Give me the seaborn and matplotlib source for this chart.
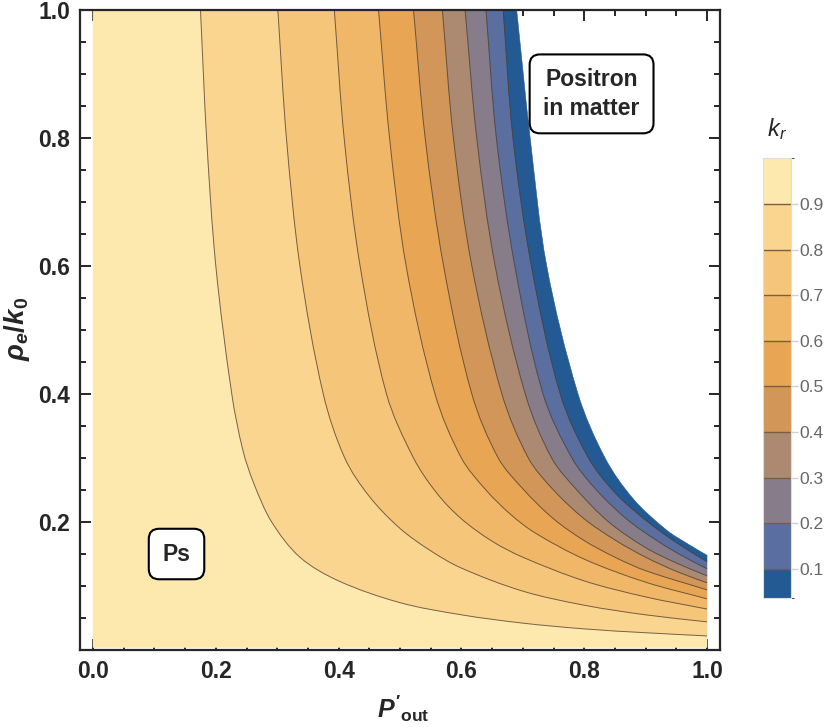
import numpy as np
import pandas as pd
import matplotlib
matplotlib.use('Agg')
import matplotlib.pyplot as plt
import seaborn as sns
from matplotlib.colors import ListedColormap, BoundaryNorm
from matplotlib.cm import ScalarMappable
from matplotlib.path import Path
from matplotlib.patches import PathPatch
from matplotlib.ticker import MultipleLocator

# contour levels of k_r as (P'_out, rho_e/k0) points
levels = [0.9, 0.8, 0.7, 0.6, 0.5, 0.4, 0.3, 0.2, 0.1]

p_09 = [0.175, 0.185, 0.200, 0.226, 0.244, 0.262, 0.291, 0.337, 0.40, 0.50, 0.60, 0.70, 0.80, 0.90, 1.00]
r_09 = [1.0, 0.8, 0.6, 0.4, 0.3125, 0.26, 0.20, 0.145, 0.108, 0.074, 0.055, 0.042, 0.033, 0.027, 0.022]
p_08 = [0.301, 0.315, 0.337, 0.375, 0.410, 0.45, 0.50, 0.55, 0.60, 0.70, 0.80, 0.90, 1.00]
r_08 = [1.0, 0.8, 0.6, 0.4, 0.3, 0.24, 0.19, 0.155, 0.128, 0.092, 0.070, 0.055, 0.044]
p_07 = [0.393, 0.409, 0.435, 0.478, 0.522, 0.56, 0.60, 0.65, 0.70, 0.80, 0.90, 1.00]
r_07 = [1.0, 0.8, 0.6, 0.4, 0.3, 0.245, 0.205, 0.17, 0.145, 0.108, 0.083, 0.064]
p_06 = [0.465, 0.483, 0.510, 0.557, 0.600, 0.64, 0.68, 0.72, 0.80, 0.90, 1.00]
r_06 = [1.0, 0.8, 0.6, 0.4, 0.3, 0.25, 0.212, 0.183, 0.142, 0.106, 0.080]
p_05 = [0.522, 0.541, 0.571, 0.617, 0.660, 0.70, 0.75, 0.80, 0.85, 0.90, 1.00]
r_05 = [1.0, 0.8, 0.6, 0.4, 0.3, 0.252, 0.205, 0.171, 0.145, 0.124, 0.094]
p_04 = [0.569, 0.587, 0.617, 0.666, 0.709, 0.75, 0.80, 0.85, 0.90, 0.95, 1.00]
r_04 = [1.0, 0.8, 0.6, 0.4, 0.3, 0.25, 0.205, 0.172, 0.145, 0.123, 0.105]
p_03 = [0.606, 0.625, 0.655, 0.704, 0.747, 0.79, 0.84, 0.90, 0.95, 1.00]
r_03 = [1.0, 0.8, 0.6, 0.4, 0.3, 0.248, 0.200, 0.160, 0.136, 0.116]
p_02 = [0.640, 0.657, 0.687, 0.733, 0.780, 0.82, 0.87, 0.92, 0.96, 1.00]
r_02 = [1.0, 0.8, 0.6, 0.4, 0.3, 0.25, 0.204, 0.170, 0.147, 0.127]
p_01 = [0.668, 0.684, 0.714, 0.761, 0.807, 0.85, 0.90, 0.95, 1.00]
r_01 = [1.0, 0.8, 0.6, 0.4, 0.3, 0.246, 0.203, 0.168, 0.138]
# edge of the region where k_r exists
p_edge = [0.690, 0.712, 0.739, 0.790, 0.834, 0.88, 0.934, 0.97, 1.00]
r_edge = [1.0, 0.8, 0.6, 0.4, 0.3, 0.236, 0.1875, 0.165, 0.148]

k_min = 0.035
band_colors = sns.color_palette(['#FDE8AE', '#FAD590', '#F5C67A', '#EFB767', '#E8A654',
                                 '#D29658', '#AB8A71', '#877C89', '#5A6FA0', '#235A94'])

sns.set_style('ticks')
plt.rcParams['font.family'] = ['Liberation Sans', 'DejaVu Sans']
plt.rcParams['mathtext.fontset'] = 'custom'
plt.rcParams['mathtext.rm'] = 'Liberation Sans:bold'
plt.rcParams['mathtext.it'] = 'Liberation Sans:italic:bold'
plt.rcParams['mathtext.bf'] = 'Liberation Sans:bold'
plt.rcParams['mathtext.sf'] = 'Liberation Sans:italic'


def smooth_verts(px, py):
    # bezier control points through the read points (chord-length tangents)
    pts = np.column_stack([px, py]).astype(float)
    d = np.hypot(*np.diff(pts, axis=0).T)
    tang = np.zeros_like(pts)
    tang[1:-1] = (pts[2:] - pts[:-2]) / (d[:-1] + d[1:])[:, None]
    tang[0] = (pts[1] - pts[0]) / d[0]
    tang[-1] = (pts[-1] - pts[-2]) / d[-1]
    verts = [pts[0]]
    for i in range(len(pts) - 1):
        verts.append(pts[i] + tang[i] * d[i] / 3)
        verts.append(pts[i + 1] - tang[i + 1] * d[i] / 3)
        verts.append(pts[i + 1])
    return verts


fig = plt.figure(figsize=(8.3, 7.27), dpi=100)
ax = fig.add_axes([0.0964, 0.1059, 0.7711, 0.8803])

curves = [(p_09, r_09), (p_08, r_08), (p_07, r_07), (p_06, r_06), (p_05, r_05),
          (p_04, r_04), (p_03, r_03), (p_02, r_02), (p_01, r_01), (p_edge, r_edge)]

r_low = 0.004
a = smooth_verts(p_09, r_09)
verts = [(0.0, 1.0)] + a + [(1.0, r_low), (0.0, r_low), (0.0, 1.0)]
codes = [Path.MOVETO, Path.LINETO] + [Path.CURVE4] * (len(a) - 1) + [Path.LINETO, Path.LINETO, Path.CLOSEPOLY]
ax.add_patch(PathPatch(Path(verts, codes), facecolor=band_colors[0], edgecolor=band_colors[0], lw=0.4))
for i in range(1, len(curves)):
    pa, ra = curves[i - 1]
    pb, rb = curves[i]
    a = smooth_verts(pa, ra)
    b = smooth_verts(pb[::-1], rb[::-1])
    verts = a + b + [a[0]]
    codes = ([Path.MOVETO] + [Path.CURVE4] * (len(a) - 1) + [Path.LINETO]
             + [Path.CURVE4] * (len(b) - 1) + [Path.CLOSEPOLY])
    ax.add_patch(PathPatch(Path(verts, codes), facecolor=band_colors[i],
                           edgecolor=band_colors[i], lw=0.4))

for lv, (p, r) in zip(levels, curves[:9]):
    a = smooth_verts(p, r)
    codes = [Path.MOVETO] + [Path.CURVE4] * (len(a) - 1)
    ax.add_patch(PathPatch(Path(a, codes), fill=False, edgecolor='#4a3a2a', lw=0.7, alpha=0.75))

ax.set_xlim(-0.0212, 1.0212)
ax.set_ylim(0, 1)
ax.set_xticks([0.0, 0.2, 0.4, 0.6, 0.8, 1.0])
ax.set_yticks([0.2, 0.4, 0.6, 0.8, 1.0])
ax.xaxis.set_minor_locator(MultipleLocator(0.05))
ax.yaxis.set_minor_locator(MultipleLocator(0.05))
ax.set_xticklabels(['0.0', '0.2', '0.4', '0.6', '0.8', '1.0'], fontweight='bold')
ax.set_yticklabels(['0.2', '0.4', '0.6', '0.8', '1.0'], fontweight='bold')
ax.tick_params(which='both', direction='in', top=True, right=True, width=1.4)
ax.tick_params(which='major', length=8, labelsize=16.5, pad=7)
ax.tick_params(which='minor', length=4)
for s in ax.spines.values():
    s.set_linewidth(1.6)

fig.text(403 / 830, 1 - 709 / 727, r"$P'_{\mathrm{out}}$", fontsize=18, ha='center', va='center')
fig.text(17 / 830, 1 - 329 / 727, r"$\rho_e/k_0$", fontsize=20, ha='center', va='center', rotation=90)

box = dict(boxstyle='round,pad=0.6,rounding_size=0.45', fc='white', ec='black', lw=1.5)
ax.text(0.136, 0.15, 'Ps', fontsize=16.5, fontweight='bold', ha='center', va='center', bbox=box)
ax.text(0.812, 0.869, 'Positron\nin matter', fontsize=16.5, fontweight='bold', ha='center',
        va='center', linespacing=1.3, bbox=box)

# legend bar
bounds = [k_min] + [0.1, 0.2, 0.3, 0.4, 0.5, 0.6, 0.7, 0.8, 0.9] + [1.0]
cmap = ListedColormap(list(band_colors)[::-1])
norm = BoundaryNorm(bounds, cmap.N)
cax = fig.add_axes([0.919, 0.177, 0.034, 0.605])
cb = fig.colorbar(ScalarMappable(norm=norm, cmap=cmap), cax=cax, spacing='proportional',
                  ticks=[0.1, 0.2, 0.3, 0.4, 0.5, 0.6, 0.7, 0.8, 0.9], drawedges=True)
cb.outline.set_edgecolor('#dddddd')
cb.outline.set_linewidth(0.8)
cb.dividers.set_color('#7a5f3e')
cb.dividers.set_linewidth(1.0)
cb.ax.set_yticklabels(['0.1', '0.2', '0.3', '0.4', '0.5', '0.6', '0.7', '0.8', '0.9'])
cb.ax.tick_params(length=5, width=1, color='#d0d0d0', labelcolor='#666666', labelsize=12.5, pad=1)
fig.text(0.936, 0.823, r'$\mathsf{k}_{\mathsf{r}}$', fontsize=17, ha='center', va='center')

fig.savefig('out.png', dpi=100)
